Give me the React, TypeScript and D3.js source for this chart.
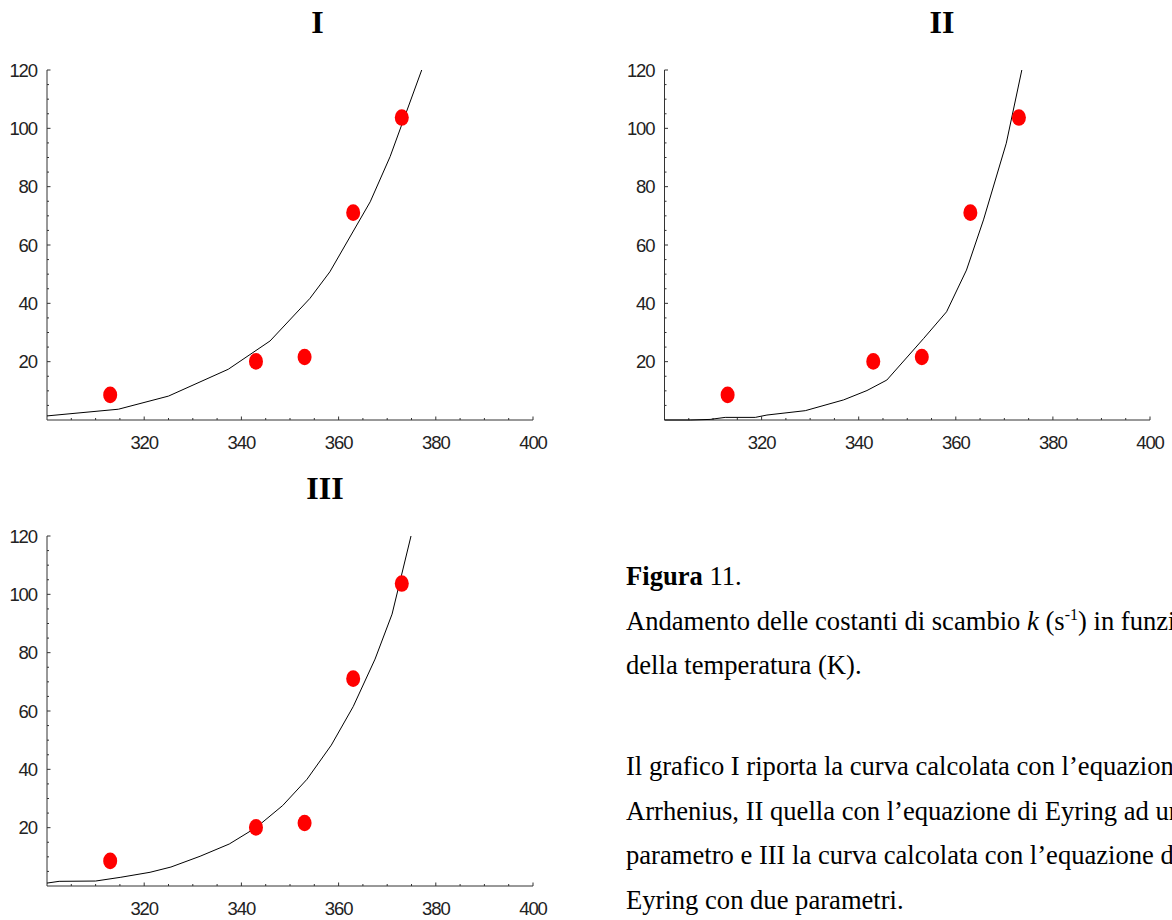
import * as React from 'react';
import {scaleLinear, line, range} from 'd3';

// measured rate constants k (s^-1) vs temperature (K)
const temps = [313, 343, 353, 363, 373];
const kValues = [8.6, 20.1, 21.6, 71.1, 103.7];

// I - Arrhenius fit, points
const arrT = [300, 314.7, 325, 337.3, 345.9, 354.1, 358.2, 366.5, 370.6, 377.1];
const arrK = [1.4, 3.7, 8.2, 17.4, 27.1, 41.7, 50.8, 74.8, 90.3, 120];

// II - Eyring, one parameter
const ey1T = [300, 305.3, 309.4, 312.5, 318.7, 321.1, 329, 336.9, 341.7, 345.8, 353.4, 358.1, 362.2, 365.7, 370.4, 373.6];
const ey1K = [0, 0, 0.2, 0.9, 0.9, 1.7, 3.2, 6.9, 10.1, 13.7, 28.0, 37.1, 51.4, 68.6, 94.9, 120];

// III - Eyring, two parameters
const ey2T = [300, 302.5, 310, 315.2, 321.2, 325.5, 331.5, 337.5, 343, 348.5, 353.5, 358.5, 363, 367.5, 371, 374.9];
const ey2K = [1.0, 1.6, 1.7, 3.0, 4.7, 6.5, 10.2, 14.4, 20.0, 27.6, 36.6, 48.3, 61.5, 77.8, 93.2, 120];

const xTickLabels = [320, 340, 360, 380, 400];
const yTickLabels = [20, 40, 60, 80, 100, 120];

const axisColor = '#333';
const tickFont = '"Liberation Sans", Arial, sans-serif';
const serif = '"Liberation Serif", "Times New Roman", serif';

type PanelProps = {
    x0: number; x1: number; y0: number; y1: number;
    title: string; titleX: number; titleY: number;
    curveT: number[]; curveK: number[];
};

const Panel = ({x0, x1, y0, y1, title, titleX, titleY, curveT, curveK}: PanelProps) => {
    const xScale = scaleLinear().domain([300, 400]).range([x0, x1]);
    const yScale = scaleLinear().domain([0, 120]).range([y0, y1]);
    const path = line<number>()
        .x((t) => xScale(t))
        .y((_, i) => yScale(curveK[i]))(curveT);

    const xMinor = range(305, 401, 5);
    const yMinor = range(5, 121, 5);

    return (
        <g>
            <text x={titleX} y={titleY} textAnchor="middle" fontFamily={serif}
                  fontWeight="bold" fontSize={32}>{title}</text>
            <line x1={x0} x2={x1} y1={y0} y2={y0} stroke={axisColor} strokeWidth={1}/>
            <line x1={x0} x2={x0} y1={y0} y2={y1} stroke={axisColor} strokeWidth={1}/>
            {xMinor.map(t => {
                const major = t % 20 === 0;
                return <line key={'xt' + t} x1={xScale(t)} x2={xScale(t)} y1={y0}
                             y2={y0 - (major ? 3.5 : 2)} stroke={axisColor} strokeWidth={1}/>;
            })}
            {yMinor.map(v => {
                const major = v % 20 === 0;
                return <line key={'yt' + v} x1={x0} x2={x0 + (major ? 3.5 : 2)} y1={yScale(v)}
                             y2={yScale(v)} stroke={axisColor} strokeWidth={1}/>;
            })}
            {xTickLabels.map(t =>
                <text key={'xl' + t} x={xScale(t)} y={y0 + 29} textAnchor="middle"
                      fontFamily={tickFont} fontSize={18.5} letterSpacing={-1.1} fill="#222">{t}</text>
            )}
            {yTickLabels.map(v =>
                <text key={'yl' + v} x={x0 - 10} y={yScale(v) + 6.5} textAnchor="end"
                      fontFamily={tickFont} fontSize={18.5} letterSpacing={-1.1} fill="#222">{v}</text>
            )}
            <path d={path || ''} fill="none" stroke="#000" strokeWidth={1}/>
            {temps.map((t, i) =>
                <ellipse key={'p' + i} cx={xScale(t)} cy={yScale(kValues[i])} rx={7} ry={8.3} fill="#ff0000"/>
            )}
        </g>
    );
};

const App = () => {
    const lh = 44.5;
    return (
        <svg width={1172} height={920} style={{position: 'absolute', left: 0, top: 0, background: '#fff'}}>
            <Panel x0={47} x1={533} y0={420} y1={70} title="I" titleX={317.5} titleY={33}
                   curveT={arrT} curveK={arrK}/>
            <Panel x0={664.5} x1={1150} y0={420} y1={70} title="II" titleX={942} titleY={33}
                   curveT={ey1T} curveK={ey1K}/>
            <Panel x0={47} x1={533} y0={886} y1={536} title="III" titleX={325} titleY={499}
                   curveT={ey2T} curveK={ey2K}/>
            <g fontFamily={serif} fontSize={26.6} fill="#000">
                <text x={626} y={585}><tspan fontWeight="bold">Figura</tspan> 11.</text>
                <text x={626} y={585 + lh}>
                    Andamento delle costanti di scambio <tspan fontStyle="italic">k</tspan> (s
                    <tspan fontSize={16} dy={-10}>-1</tspan><tspan dy={10}>) in funzione</tspan>
                </text>
                <text x={626} y={585 + 2 * lh}>della temperatura (K).</text>
                <text x={626} y={775}>Il grafico I riporta la curva calcolata con l’equazione di</text>
                <text x={626} y={775 + lh}>Arrhenius, II quella con l’equazione di Eyring ad un</text>
                <text x={626} y={775 + 2 * lh}>parametro e III la curva calcolata con l’equazione di</text>
                <text x={626} y={775 + 3 * lh}>Eyring con due parametri.</text>
            </g>
        </svg>
    );
};

export default App;
